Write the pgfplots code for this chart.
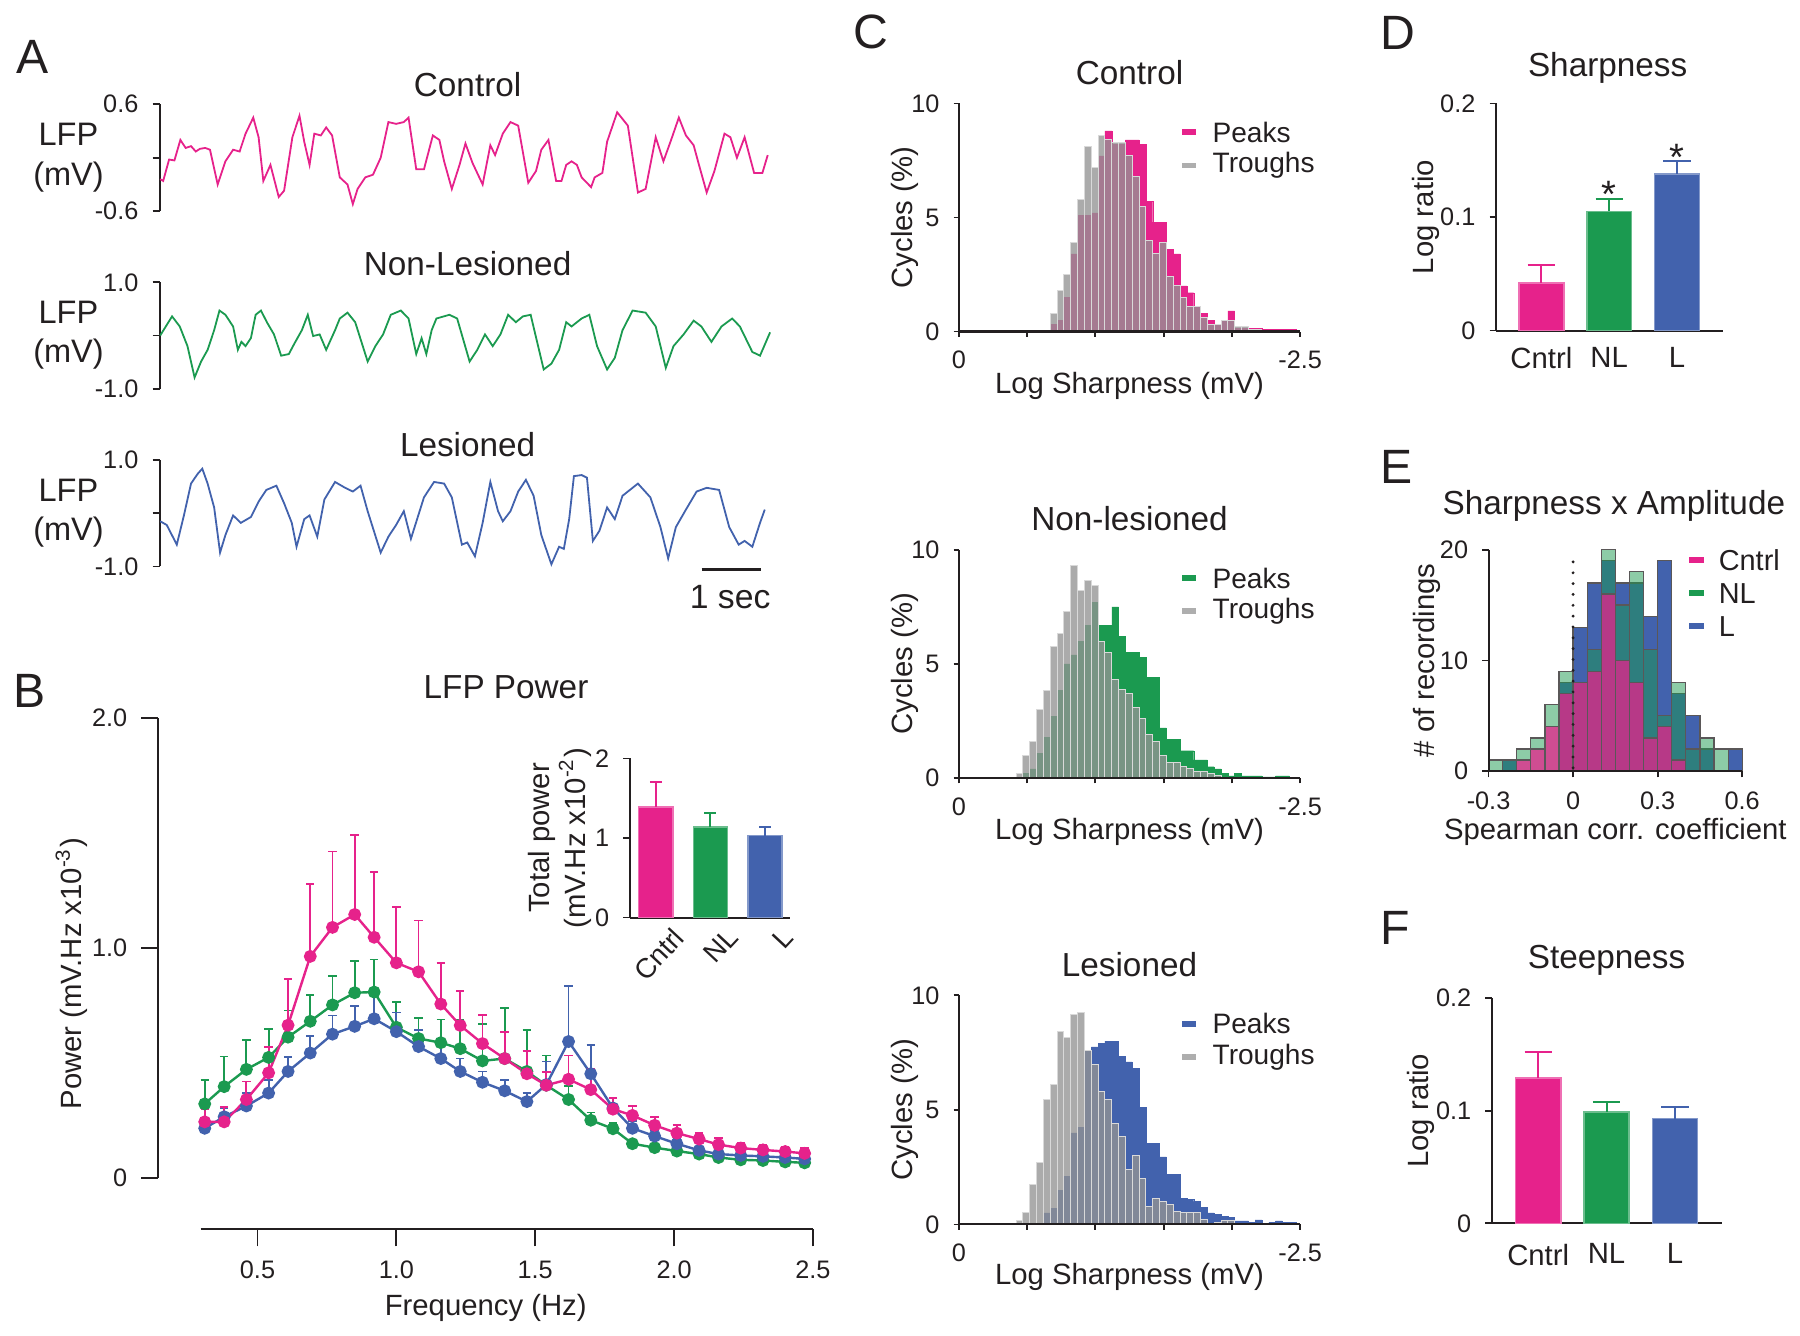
\documentclass[border=0pt]{standalone}
\usepackage{fontspec}
\setmainfont{Liberation Sans}
\usepackage{pgfplots}
\usepackage{pgfplotstable}
\pgfplotsset{compat=1.18}

\definecolor{cpink}{HTML}{E6228B}
\definecolor{cgreen}{HTML}{1B9A50}
\definecolor{cblue}{HTML}{4262AD}
\definecolor{cgray}{HTML}{939393}
\definecolor{ink}{HTML}{231F20}

\newcommand{\tickfont}{\fontsize{6.3}{7.4}\selectfont}
\newcommand{\labfont}{\fontsize{7.3}{8.8}\selectfont}
\newcommand{\titfont}{\fontsize{8.3}{10}\selectfont}
\newcommand{\letfont}{\fontsize{12}{14}\selectfont}

\pgfplotsset{
  panel/.style={
    scale only axis, anchor=south west, clip=false,
    axis x line*=bottom, axis y line*=left,
    tick align=outside, major tick length=0.055cm,
    axis line style={draw=ink, line width=0.5pt},
    tick style={draw=ink, line width=0.45pt},
    tick label style={font=\tickfont, text=ink},
    /pgf/number format/assume math mode=true,
  },
  ylab at/.style={every axis y label/.style={at={(rel axis cs:#1,0.5)}, rotate=90, anchor=center, font=\labfont, text=ink, align=center}},
  xlab at/.style={every axis x label/.style={at={(rel axis cs:0.5,#1)}, anchor=center, font=\labfont, text=ink}},
  tit at/.style 2 args={every axis title/.style={at={(rel axis cs:#1,#2)}, anchor=center, font=\titfont, text=ink}},
  trace/.style={
    panel, hide x axis, xmin=0, xmax=10.25,
    major tick length=0.067cm,
    every axis y label/.style={at={(rel axis cs:-0.151,0.5)}, anchor=center, align=center, font=\fontsize{8.1}{9.8}\selectfont, text=ink},
    ylabel={LFP\\(mV)},
  },
  hist/.style={ybar, bar width=0.05, bar shift=0pt},
  troughs/.style={hist, fill=cgray, fill opacity=0.78, draw=white!65!cgray, line width=0.25pt},
  % one bar (colour, width, cap half-length) with an upward error bar
  ebar/.style n args={3}{ybar, bar width=#2, fill=#1, draw=white!35!#1, line width=0.4pt,
    error bars/.cd, y dir=plus, y explicit,
    error bar style={#1, line width=0.5pt},
    error mark options={#1, rotate=90, mark size=#3, line width=0.5pt}},
  pline/.style={#1, line width=0.6pt, mark=*, mark size=1.3pt,
    error bars/.cd, y dir=plus, y explicit,
    error bar style={line width=0.45pt},
    error mark options={rotate=90, mark size=1.05pt, line width=0.45pt}},
}

% ---------- panel A traces (time s, LFP mV)
\pgfplotstableread{
t v
0 -0.24
0.05 -0.26
0.15 -0.02
0.24 -0.03
0.34 0.20
0.43 0.11
0.52 0.13
0.60 0.07
0.67 0.10
0.76 0.11
0.84 0.09
0.97 -0.30
1.10 -0.04
1.23 0.09
1.34 0.07
1.44 0.27
1.57 0.45
1.66 0.23
1.74 -0.26
1.86 -0.08
2.00 -0.44
2.09 -0.37
2.23 0.23
2.35 0.47
2.43 0.18
2.52 -0.08
2.60 0.27
2.71 0.25
2.80 0.34
2.90 0.25
3.03 -0.22
3.16 -0.30
3.25 -0.52
3.33 -0.35
3.46 -0.22
3.59 -0.19
3.72 0.00
3.85 0.40
3.98 0.38
4.11 0.40
4.19 0.45
4.32 -0.13
4.45 -0.13
4.60 0.25
4.71 0.20
4.79 -0.04
4.92 -0.35
5.05 -0.08
5.15 0.16
5.27 -0.06
5.44 -0.30
5.57 0.14
5.65 0.03
5.78 0.27
5.91 0.40
6.04 0.36
6.21 -0.28
6.34 -0.15
6.43 0.09
6.55 0.20
6.68 -0.26
6.77 -0.26
6.85 -0.08
6.94 -0.04
7.03 -0.08
7.11 -0.22
7.27 -0.33
7.33 -0.22
7.46 -0.17
7.54 0.18
7.71 0.51
7.89 0.36
8.06 -0.39
8.19 -0.35
8.36 0.23
8.49 -0.04
8.62 0.20
8.75 0.45
8.87 0.25
9.00 0.14
9.09 -0.08
9.22 -0.39
9.35 -0.15
9.52 0.27
9.62 0.23
9.73 0.00
9.86 0.23
10.02 -0.17
10.16 -0.17
10.25 0.03
}\trC
\pgfplotstableread{
t v
0 0.00
0.20 0.36
0.33 0.17
0.46 -0.20
0.58 -0.79
0.69 -0.49
0.80 -0.27
0.91 0.10
1.00 0.47
1.10 0.39
1.23 0.17
1.31 -0.27
1.37 -0.12
1.44 -0.20
1.53 -0.05
1.61 0.39
1.70 0.47
1.80 0.25
1.92 0.02
2.04 -0.38
2.17 -0.35
2.26 -0.16
2.39 0.10
2.49 0.39
2.58 -0.01
2.69 0.02
2.80 -0.27
2.95 0.10
3.03 0.32
3.16 0.43
3.29 0.25
3.50 -0.49
3.63 -0.20
3.76 0.02
3.89 0.39
4.06 0.47
4.19 0.32
4.32 -0.35
4.41 -0.05
4.49 -0.35
4.58 0.10
4.66 0.32
4.88 0.39
5.01 0.32
5.22 -0.49
5.35 -0.27
5.48 0.02
5.61 -0.20
5.74 0.02
5.87 0.39
6.00 0.25
6.12 0.36
6.25 0.39
6.47 -0.64
6.60 -0.53
6.73 -0.27
6.85 0.25
6.94 0.17
7.11 0.32
7.24 0.39
7.37 -0.20
7.54 -0.64
7.67 -0.42
7.80 0.10
7.97 0.47
8.19 0.43
8.36 0.17
8.53 -0.61
8.66 -0.20
8.83 0.02
9.00 0.28
9.13 0.17
9.30 -0.12
9.47 0.17
9.65 0.32
9.78 0.17
9.99 -0.31
10.12 -0.38
10.29 0.06
}\trN
\pgfplotstableread{
t v
0 -0.15
0.11 -0.22
0.28 -0.59
0.40 -0.04
0.52 0.56
0.63 0.74
0.71 0.84
0.80 0.56
0.91 0.11
1.01 -0.74
1.10 -0.41
1.23 -0.04
1.36 -0.18
1.53 -0.07
1.66 0.22
1.79 0.44
1.96 0.52
2.09 0.19
2.22 -0.18
2.30 -0.63
2.43 -0.11
2.52 -0.04
2.65 -0.44
2.77 0.26
2.95 0.59
3.12 0.48
3.25 0.41
3.38 0.52
3.50 0.04
3.72 -0.74
3.85 -0.44
3.98 -0.22
4.11 0.04
4.23 -0.48
4.45 0.30
4.62 0.59
4.79 0.56
4.92 0.30
5.09 -0.59
5.18 -0.55
5.31 -0.81
5.44 -0.18
5.57 0.59
5.70 0.04
5.78 -0.15
5.91 0.04
6.04 0.41
6.17 0.63
6.30 0.33
6.43 -0.41
6.60 -0.96
6.73 -0.63
6.81 -0.67
6.90 -0.11
6.98 0.70
7.11 0.72
7.20 0.67
7.30 -0.52
7.41 -0.33
7.54 0.11
7.67 -0.11
7.80 0.33
8.06 0.56
8.27 0.30
8.44 -0.26
8.57 -0.85
8.70 -0.26
8.87 0.07
9.05 0.41
9.22 0.48
9.43 0.44
9.60 -0.26
9.76 -0.59
9.86 -0.52
9.99 -0.63
10.12 -0.18
10.20 0.07
}\trL

% ---------- panel B power spectra (f, mean, +sem)
\pgfplotstableread{
f m e
0.31 0.245 0.055
0.38 0.245 0.065
0.46 0.342 0.078
0.54 0.458 0.112
0.61 0.665 0.200
0.69 0.964 0.316
0.77 1.090 0.330
0.85 1.146 0.344
0.92 1.047 0.283
1.00 0.936 0.244
1.08 0.897 0.223
1.16 0.757 0.178
1.23 0.664 0.149
1.31 0.585 0.125
1.39 0.520 0.114
1.47 0.454 0.099
1.54 0.404 0.056
1.62 0.430 0.103
1.70 0.385 0.092
1.78 0.300 0.050
1.85 0.273 0.041
1.93 0.230 0.037
2.01 0.196 0.034
2.09 0.170 0.028
2.16 0.146 0.028
2.24 0.131 0.024
2.32 0.123 0.023
2.40 0.116 0.020
2.47 0.108 0.022
}\pwC
\pgfplotstableread{
f m e
0.31 0.323 0.103
0.38 0.398 0.131
0.46 0.473 0.127
0.54 0.525 0.124
0.61 0.613 0.116
0.69 0.682 0.114
0.77 0.753 0.127
0.85 0.806 0.138
0.92 0.809 0.141
1.00 0.656 0.110
1.08 0.607 0.090
1.16 0.589 0.101
1.23 0.563 0.125
1.31 0.510 0.159
1.39 0.520 0.218
1.47 0.464 0.181
1.54 0.404 0.129
1.62 0.342 0.060
1.70 0.252 0.034
1.78 0.215 0.025
1.85 0.150 0.014
1.93 0.133 0.013
2.01 0.118 0.010
2.09 0.105 0.010
2.16 0.090 0.008
2.24 0.080 0.008
2.32 0.077 0.008
2.40 0.071 0.007
2.47 0.067 0.007
}\pwN
\pgfplotstableread{
f m e
0.31 0.217 0.023
0.38 0.267 0.038
0.46 0.314 0.056
0.54 0.370 0.056
0.61 0.464 0.061
0.69 0.544 0.075
0.77 0.626 0.081
0.85 0.660 0.090
0.92 0.693 0.107
1.00 0.637 0.083
1.08 0.572 0.073
1.16 0.520 0.065
1.23 0.464 0.056
1.31 0.417 0.047
1.39 0.380 0.046
1.47 0.333 0.037
1.54 0.407 0.100
1.62 0.594 0.240
1.70 0.454 0.126
1.78 0.305 0.045
1.85 0.217 0.033
1.93 0.183 0.027
2.01 0.150 0.020
2.09 0.121 0.015
2.16 0.105 0.012
2.24 0.099 0.010
2.32 0.095 0.010
2.40 0.090 0.010
2.47 0.084 0.010
}\pwL

% ---------- panel C histograms (bin centre, peaks %, troughs %)
\pgfplotstableread{
x pk tr
-0.695 0.3 0.8
-0.745 0.5 1.8
-0.795 1.5 2.5
-0.845 3.4 3.9
-0.895 5.1 5.8
-0.945 5.1 8.1
-0.995 5.2 7.2
-1.045 7.7 8.6
-1.095 8.8 8.4
-1.145 8.2 8.3
-1.195 8.2 8.3
-1.245 8.4 7.7
-1.295 8.4 6.8
-1.345 8.2 5.5
-1.395 5.7 4.0
-1.445 4.8 3.4
-1.495 4.8 3.9
-1.545 3.6 2.4
-1.595 3.4 2.0
-1.645 2.0 1.5
-1.695 1.7 1.1
-1.745 1.1 1.1
-1.795 0.8 0.6
-1.845 0.5 0.3
-1.895 0.3 0.3
-1.945 0.5 0.5
-1.995 0.9 0.5
-2.045 0.15 0.2
-2.095 0.15 0.2
-2.145 0.15 0.1
-2.195 0.15 0.1
-2.245 0.1 0.05
-2.295 0.1 0.05
-2.345 0.1 0.05
-2.395 0.1 0.05
-2.445 0.1 0
}\hC
\pgfplotstableread{
x pk tr
-0.445 0 0.2
-0.495 0.2 1.0
-0.545 0.4 1.6
-0.595 1.1 3.0
-0.645 1.8 3.85
-0.695 2.7 5.75
-0.745 3.85 6.35
-0.795 5.0 7.3
-0.845 5.4 9.3
-0.895 6.0 8.2
-0.945 6.7 8.65
-0.995 7.7 8.45
-1.045 6.7 6.0
-1.095 6.7 5.5
-1.145 7.5 4.3
-1.195 6.2 3.9
-1.245 5.5 3.7
-1.295 5.5 3.1
-1.345 5.3 2.6
-1.395 4.4 1.9
-1.445 4.4 1.6
-1.495 2.2 1.0
-1.545 1.7 0.7
-1.595 1.7 0.7
-1.645 1.2 0.5
-1.695 1.2 0.4
-1.745 0.8 0.3
-1.795 0.8 0.3
-1.845 0.5 0.2
-1.895 0.4 0.1
-1.945 0.2 0
-1.995 0.1 0
-2.045 0.2 0
-2.095 0.1 0
-2.145 0.1 0
-2.195 0.1 0
-2.245 0.05 0
-2.295 0.05 0
-2.345 0.1 0
-2.395 0.1 0
}\hN
\pgfplotstableread{
x pk tr
-0.445 0 0.15
-0.495 0 0.5
-0.545 0 1.75
-0.595 0 2.7
-0.645 0.5 5.45
-0.695 0.7 6.1
-0.745 1.5 8.4
-0.795 2.1 8.15
-0.845 4.0 9.15
-0.895 4.25 9.25
-0.945 7.6 7.6
-0.995 7.75 7.0
-1.045 7.9 5.8
-1.095 8.0 5.45
-1.145 8.0 4.4
-1.195 7.35 3.85
-1.245 7.1 2.4
-1.295 6.8 3.0
-1.345 5.1 2.0
-1.395 3.55 0.8
-1.445 3.55 1.15
-1.495 2.95 1.0
-1.545 2.2 0.85
-1.595 2.2 0.55
-1.645 1.15 0.5
-1.695 1.1 0.5
-1.745 1.0 0.5
-1.795 0.75 0.2
-1.845 0.5 0.05
-1.895 0.45 0.1
-1.945 0.35 0.15
-1.995 0.3 0.15
-2.045 0.15 0
-2.095 0.15 0
-2.145 0.1 0
-2.195 0.2 0
-2.245 0.05 0
-2.295 0.1 0
-2.345 0.15 0
-2.395 0.1 0
-2.445 0.1 0
}\hL

% ---------- panel E histograms (bin centre, counts)
\pgfplotstableread{
x c nl l
-0.275 0 1 0
-0.225 0 1 1
-0.175 1 2 0
-0.125 2 3 0
-0.075 4 6 0
-0.025 7 9 8
0.025 8 8 13
0.075 9 11 17
0.125 16 20 19
0.175 10 15 17
0.225 8 18 17
0.275 3 11 14
0.325 4 5 19
0.375 1 8 7
0.425 0 2 5
0.475 0 3 2
0.525 0 2 0
0.575 0 0 2
}\hE

\begin{document}
\begin{tikzpicture}
\path (0,0) rectangle (15.68cm,11.66cm);

% ===== A
\begin{axis}[trace, at={(1.375cm,9.81cm)}, width=5.32cm, height=0.937cm,
  ymin=-0.6, ymax=0.6, ytick={-0.6,0,0.6}, yticklabels={-0.6,,0.6},
  title=Control, tit at={0.506}{1.185}]
\addplot[cpink, line width=0.45pt] table[x=t, y=v] {\trC};
\end{axis}
\begin{axis}[trace, at={(1.375cm,8.257cm)}, width=5.32cm, height=0.93cm,
  ymin=-1, ymax=1, ytick={-1,0,1}, yticklabels={-1.0,,1.0},
  title=Non-Lesioned, tit at={0.506}{1.178}]
\addplot[cgreen, line width=0.45pt] table[x=t, y=v] {\trN};
\end{axis}
\begin{axis}[trace, at={(1.375cm,6.70cm)}, width=5.32cm, height=0.93cm,
  ymin=-1, ymax=1, ytick={-1,0,1}, yticklabels={-1.0,,1.0},
  title=Lesioned, tit at={0.506}{1.15}]
\addplot[cblue, line width=0.45pt] table[x=t, y=v] {\trL};
\end{axis}

% ===== B main
\begin{axis}[panel, at={(1.36cm,0.895cm)}, width=5.731cm, height=4.478cm,
  xmin=0.1435, xmax=2.5, ymin=-0.222, ymax=2.0,
  axis line style={draw=none}, major tick length=0.15cm,
  xtick={0.5,1,1.5,2,2.5}, xticklabels={0.5,1.0,1.5,2.0,2.5},
  ytick={0,1,2}, yticklabels={0,1.0,2.0},
  title=LFP Power, tit at={0.531}{1.061},
  xlabel=Frequency (Hz), xlab at={-0.154},
  ylabel={Power (mV.Hz x10\textsuperscript{-3})}, ylab at={-0.1326}]
\draw[ink, line width=0.5pt] (axis cs:0.295,-0.222) -- (axis cs:2.5,-0.222);
\draw[ink, line width=0.5pt] (axis cs:0.1435,0) -- (axis cs:0.1435,2);
\addplot[pline=cgreen] table[x=f, y=m, y error=e] {\pwN};
\addplot[pline=cblue] table[x=f, y=m, y error=e] {\pwL};
\addplot[pline=cpink] table[x=f, y=m, y error=e] {\pwC};
\end{axis}

% ===== B inset
\begin{axis}[panel, at={(5.486cm,3.625cm)}, width=1.406cm, height=1.393cm,
  xmin=-0.478, xmax=2.46, ymin=0, ymax=2,
  ytick={0,1,2}, xtick={0,1,2}, xticklabels={Cntrl,NL,L},
  xtick style={draw=none},
  x tick label style={rotate=47, anchor=north east, font=\fontsize{6.9}{8}\selectfont, inner sep=0pt, xshift=2.5pt, yshift=-3pt},
  ylabel={Total power\\(mV.Hz x10\textsuperscript{-2})}, ylab at={-0.4346}]
\addplot[ebar={cpink}{0.626}{1.5pt}] coordinates {(0,1.39) +- (0,0.31)};
\addplot[ebar={cgreen}{0.626}{1.5pt}] coordinates {(1,1.135) +- (0,0.175)};
\addplot[ebar={cblue}{0.626}{1.5pt}] coordinates {(2,1.03) +- (0,0.105)};
\end{axis}

% ===== C histograms
\pgfplotsset{chist/.style={panel, width=2.99cm, axis on top,
  x dir=reverse,
  xmin=-2.5, xmax=0, ymin=0, ymax=10,
  xtick={0,-0.5,-1,-1.5,-2,-2.5}, xticklabels={0,,,,,-2.5},
  ytick={0,5,10}, major tick length=0.045cm,
  xlabel=Log Sharpness (mV), ylabel=Cycles (\%), ylab at={-0.1575}}}
\begin{axis}[chist, at={(8.368cm,8.757cm)}, height=1.997cm,
  title=Control, tit at={0.5}{1.134}, xlab at={-0.240}]
\addplot[hist, fill=cpink, draw=cpink, line width=0.1pt] table[x=x, y=pk] {\hC};
\addplot[troughs] table[x=x, y=tr] {\hC};
\end{axis}
\begin{axis}[chist, at={(8.368cm,4.846cm)}, height=2.0cm,
  title=Non-lesioned, tit at={0.5}{1.135}, xlab at={-0.237}]
\addplot[hist, fill=cgreen, draw=cgreen, line width=0.1pt] table[x=x, y=pk] {\hN};
\addplot[troughs] table[x=x, y=tr] {\hN};
\end{axis}
\begin{axis}[chist, at={(8.368cm,0.938cm)}, height=2.006cm,
  title=Lesioned, tit at={0.5}{1.133}, xlab at={-0.228}]
\addplot[hist, fill=cblue, draw=cblue, line width=0.1pt] table[x=x, y=pk] {\hL};
\addplot[troughs] table[x=x, y=tr] {\hL};
\end{axis}

% ===== D
\begin{axis}[panel, at={(13.071cm,8.765cm)}, width=1.99cm, height=1.989cm,
  xmin=-0.671, xmax=2.68, ymin=0, ymax=0.2,
  ytick={0,0.1,0.2}, yticklabels={0,0.1,0.2},
  xtick={0,1,2}, xticklabels={Cntrl,NL,L}, xtick style={draw=none},
  x tick label style={font=\labfont, yshift=1pt},
  title=Sharpness, tit at={0.492}{1.156},
  ylabel=Log ratio, ylab at={-0.3095}]
\addplot[ebar={cpink}{0.66}{3.4pt}] coordinates {(0,0.042) +- (0,0.0155)};
\addplot[ebar={cgreen}{0.66}{3.4pt}] coordinates {(1,0.105) +- (0,0.011)};
\addplot[ebar={cblue}{0.66}{3.4pt}] coordinates {(2,0.138) +- (0,0.011)};
\node[font=\fontsize{9.5}{10}\selectfont, text=ink, anchor=base, inner sep=0pt] at (axis cs:1,0.108) {*};
\node[font=\fontsize{9.5}{10}\selectfont, text=ink, anchor=base, inner sep=0pt] at (axis cs:2,0.141) {*};
\end{axis}

% ===== E
\begin{axis}[panel, at={(13.007cm,4.907cm)}, width=2.221cm, height=1.939cm, axis on top,
  xmin=-0.3, xmax=0.6, ymin=0, ymax=20,
  xtick={-0.3,0,0.3,0.6}, xticklabels={-0.3,0,0.3,0.6},
  ytick={0,10,20},
  title=Sharpness x Amplitude, tit at={0.494}{1.2},
  xlabel=Spearman corr. coefficient, xlab at={-0.275},
  ylabel=\# of recordings, ylab at={-0.242}]
\addplot[hist, fill=cblue, draw=ink!75, line width=0.3pt] table[x=x, y=l] {\hE};
\addplot[hist, fill=cgreen, fill opacity=0.5, draw=ink!75, line width=0.3pt] table[x=x, y=nl] {\hE};
\addplot[hist, fill=cpink, fill opacity=0.75, draw=ink!75, line width=0.3pt] table[x=x, y=c] {\hE};
\draw[ink, line width=0.8pt, line cap=round, dash pattern=on 0pt off 2.7pt] (axis cs:0,0.3) -- (axis cs:0,19.1);
\end{axis}

% ===== F
\begin{axis}[panel, at={(13.035cm,0.947cm)}, width=2.014cm, height=1.974cm,
  xmin=-0.68, xmax=2.685, ymin=0, ymax=0.2,
  ytick={0,0.1,0.2}, yticklabels={0,0.1,0.2},
  xtick={0,1,2}, xticklabels={Cntrl,NL,L}, xtick style={draw=none},
  x tick label style={font=\labfont},
  title=Steepness, tit at={0.4995}{1.169},
  ylabel=Log ratio, ylab at={-0.309}]
\addplot[ebar={cpink}{0.66}{3.4pt}] coordinates {(0,0.129) +- (0,0.023)};
\addplot[ebar={cgreen}{0.66}{3.4pt}] coordinates {(1,0.099) +- (0,0.009)};
\addplot[ebar={cblue}{0.66}{3.4pt}] coordinates {(2,0.093) +- (0,0.010)};
\end{axis}

% ===== letters, legends, scale bar (picture pixel frame)
\begin{scope}[x=0.01cm, y=-0.01cm, shift={(0,11.66cm)}]
\foreach \l/\px/\py in {A/25.8/50, B/23/605, C/760.7/27.6, D/1222/29, E/1221/409.4, F/1219.4/813}
  \node[font=\letfont, text=ink] at (\px,\py) {\l};
% scale bar
\draw[ink, line width=0.6pt] (612,499) -- (664,499);
\node[font=\fontsize{8.4}{10}\selectfont, text=ink] at (637,523) {1 sec};
% C legends
\foreach \yy/\cc in {116/cpink, 506.6/cgreen, 897.1/cblue} {
  \fill[\cc] (1032.6,\yy-2.6) rectangle (1045.4,\yy+2.6);
  \node[anchor=west, font=\fontsize{7}{8}\selectfont, text=ink, inner sep=0pt] at (1059,\yy) {Peaks};
  \fill[white!25!cgray] (1032.6,\yy+26.4) rectangle (1045.4,\yy+31.6);
  \node[anchor=west, font=\fontsize{7}{8}\selectfont, text=ink, inner sep=0pt] at (1059,\yy+29) {Troughs};
}
% E legend
\foreach \yy/\cc/\tt in {490.6/cpink/Cntrl, 519.7/cgreen/NL, 548.7/cblue/L} {
  \fill[\cc] (1477.1,\yy-2.6) rectangle (1490.1,\yy+2.6);
  \node[anchor=west, font=\fontsize{7.2}{8}\selectfont, text=ink, inner sep=0pt] at (1502.5,\yy) {\tt};
}
\end{scope}
\end{tikzpicture}
\end{document}
